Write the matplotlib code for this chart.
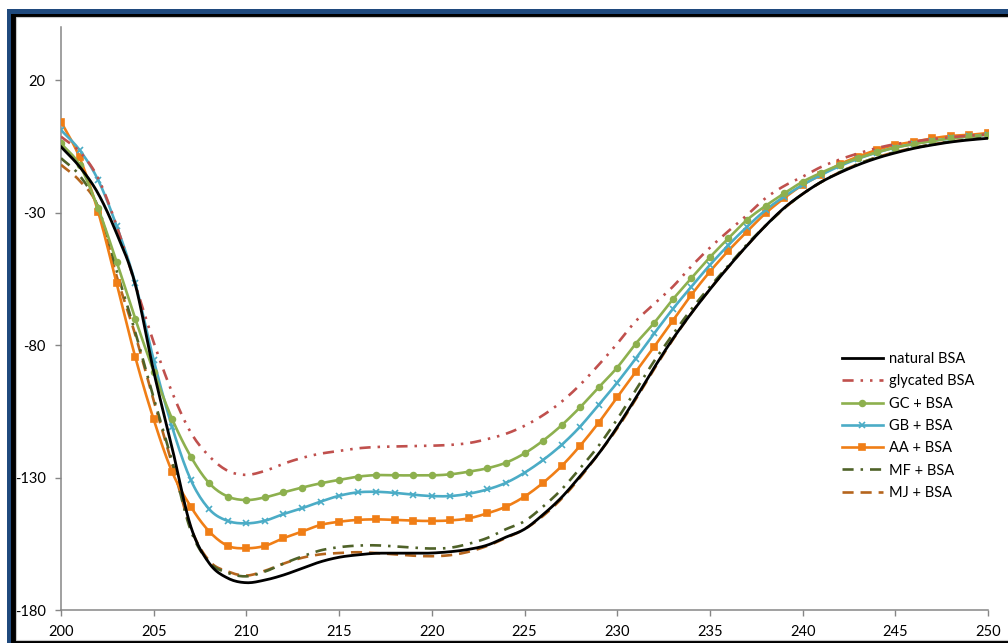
import numpy as np
import matplotlib
matplotlib.use("Agg")
import matplotlib.pyplot as plt
from matplotlib.patches import Rectangle

plt.rcParams['font.family'] = ['Lato', 'DejaVu Sans']
plt.rcParams['lines.scale_dashes'] = False

wavelength = np.arange(200, 251)

natural_bsa = [-5.2, -12.7, -22.8, -37.9, -57.0, -90.0, -119.0, -148.5, -162.4, -168.0,
               -169.7, -168.7, -166.8, -164.3, -161.8, -160.1, -159.2, -158.6, -158.6, -158.6,
               -158.5, -158.0, -157.1, -155.5, -152.5, -149.5, -144.0, -137.5, -129.5, -121.0,
               -111.0, -100.0, -88.5, -77.7, -68.0, -59.0, -50.5, -42.5, -35.0, -28.3,
               -23.0, -18.5, -15.0, -12.0, -9.5, -7.5, -5.8, -4.5, -3.4, -2.6, -2.0]

glycated_bsa = [-1.4, -7.0, -17.0, -35.0, -57.0, -79.0, -98.0, -113.0, -122.0, -127.5,
                -129.0, -127.5, -124.8, -122.6, -121.0, -120.0, -119.0, -118.5, -118.3, -118.2,
                -118.0, -117.7, -117.0, -115.5, -113.5, -110.5, -106.5, -101.4, -95.0, -87.5,
                -79.5, -71.0, -64.5, -58.0, -50.3, -43.3, -37.0, -31.0, -24.6, -20.0,
                -16.5, -12.8, -10.0, -7.7, -5.7, -4.2, -3.2, -2.3, -1.6, -1.0, -0.5]

gc_bsa = [-3.9, -12.1, -28.4, -48.6, -70.0, -90.0, -108.0, -122.1, -132.2, -137.2,
          -138.5, -137.5, -135.6, -133.8, -132.2, -130.9, -129.7, -129.1, -129.2, -129.2,
          -129.2, -128.8, -127.8, -126.5, -124.4, -120.9, -116.1, -110.3, -103.5, -96.0,
          -88.5, -79.5, -71.6, -62.8, -54.8, -46.9, -39.7, -32.8, -27.5, -22.8,
          -18.4, -15.0, -12.0, -9.5, -7.3, -5.5, -4.2, -3.0, -2.0, -1.3, -0.6]

gb_bsa = [1.1, -6.4, -17.7, -35.1, -56.5, -85.7, -111.1, -130.9, -142.0, -146.4,
          -147.3, -146.3, -143.8, -141.6, -139.1, -136.9, -135.6, -135.4, -135.8, -136.5,
          -137.0, -137.0, -136.1, -134.5, -132.0, -128.2, -123.4, -117.7, -110.8, -102.6,
          -94.2, -85.1, -75.6, -66.4, -58.0, -49.8, -42.3, -35.4, -29.1, -24.0,
          -19.6, -15.8, -12.5, -9.7, -7.4, -5.5, -4.1, -3.0, -2.0, -1.3, -0.6]

aa_bsa = [4.3, -9.2, -29.7, -56.7, -84.4, -108.1, -128.0, -141.0, -150.4, -155.8,
          -156.7, -155.8, -152.9, -150.4, -147.9, -146.7, -146.0, -145.8, -146.0, -146.3,
          -146.4, -146.2, -145.4, -143.5, -141.0, -137.2, -132.0, -125.7, -118.0, -109.3,
          -99.7, -90.1, -80.6, -70.8, -61.1, -52.3, -44.4, -37.2, -30.3, -24.6,
          -19.6, -15.8, -11.8, -8.9, -6.4, -4.5, -3.3, -2.0, -1.1, -0.7, 0.0]

mf_bsa = [-9.5, -16.0, -28.0, -52.0, -75.0, -100.0, -124.0, -150.0, -162.0, -166.0,
          -167.3, -165.5, -162.5, -159.8, -157.5, -156.3, -155.7, -155.6, -156.0, -156.5,
          -156.8, -156.5, -155.0, -152.8, -149.5, -146.5, -141.0, -134.5, -126.5, -118.0,
          -108.0, -97.0, -86.0, -76.0, -66.5, -58.0, -50.0, -42.0, -35.0, -28.5,
          -23.0, -18.5, -14.8, -11.7, -9.2, -7.2, -5.6, -4.3, -3.2, -2.4, -1.6]

mj_bsa = [-12.0, -18.0, -28.0, -54.0, -76.0, -101.0, -125.0, -149.0, -161.5, -165.5,
          -167.0, -165.2, -162.5, -160.3, -159.0, -158.5, -158.2, -158.5, -159.0, -159.5,
          -159.7, -159.3, -158.0, -155.8, -152.8, -149.5, -144.5, -138.0, -130.0, -121.0,
          -111.5, -100.5, -89.0, -78.0, -68.0, -59.0, -50.5, -42.5, -35.0, -28.5,
          -23.0, -18.5, -14.8, -11.7, -9.2, -7.2, -5.6, -4.3, -3.2, -2.4, -1.6]

labels = ["natural BSA", "glycated BSA", "GC + BSA", "GB + BSA", "AA + BSA", "MF + BSA", "MJ + BSA"]
x_ticks = [200, 205, 210, 215, 220, 225, 230, 235, 240, 245, 250]
y_ticks = [-180, -130, -80, -30, 20]

W, H = 1008, 643
SUB = 10


def smooth(x, y, n=SUB):
    """Catmull-Rom spline through the points (Excel-like smoothed line)."""
    x = np.asarray(x, float)
    y = np.asarray(y, float)
    xp = np.concatenate([[2 * x[0] - x[1]], x, [2 * x[-1] - x[-2]]])
    yp = np.concatenate([[2 * y[0] - y[1]], y, [2 * y[-1] - y[-2]]])
    xs, ys = [], []
    t = np.linspace(0, 1, n, endpoint=False)
    for i in range(1, len(xp) - 2):
        p0, p1, p2, p3 = yp[i - 1], yp[i], yp[i + 1], yp[i + 2]
        q0, q1, q2, q3 = xp[i - 1], xp[i], xp[i + 1], xp[i + 2]
        t2, t3 = t * t, t * t * t
        ys.append(0.5 * (2 * p1 + (-p0 + p2) * t + (2 * p0 - 5 * p1 + 4 * p2 - p3) * t2
                         + (-p0 + 3 * p1 - 3 * p2 + p3) * t3))
        xs.append(0.5 * (2 * q1 + (-q0 + q2) * t + (2 * q0 - 5 * q1 + 4 * q2 - q3) * t2
                         + (-q0 + 3 * q1 - 3 * q2 + q3) * t3))
    xs.append([x[-1]])
    ys.append([y[-1]])
    return np.concatenate(xs), np.concatenate(ys)


fig = plt.figure(figsize=(W / 100, H / 100), dpi=100)
fig.patch.set_facecolor('white')


def prect(x0, y0, x1, y1, **kw):
    r = Rectangle((x0 / W, 1 - y1 / H), (x1 - x0) / W, (y1 - y0) / H,
                  transform=fig.transFigure, **kw)
    fig.add_artist(r)
    return r


prect(7, 9, W + 5, H + 5, facecolor='#1F497D', edgecolor='none', zorder=0)
prect(11, 14, W + 5, H + 5, facecolor='#000000', edgecolor='none', zorder=0)
prect(16, 17, W + 5, 640, facecolor='white', edgecolor='#C8C8C8', linewidth=0.8, zorder=0)

ax = fig.add_axes([61 / W, 1 - 610 / H, (988 - 61) / W, (610 - 27) / H])
ax.set_facecolor('none')

styles = [
    dict(color='#000000', lw=2.0, ls='-', marker=None),
    dict(color='#C0504D', lw=1.9, ls=(0, (8, 5, 1.8, 5, 1.8, 5)), marker=None),
    dict(color='#8DB04E', lw=1.9, ls='-', marker='o', ms=4.2),
    dict(color='#4BACC6', lw=1.9, ls='-', marker='x', ms=4.5),
    dict(color='#F07E16', lw=1.9, ls='-', marker='s', ms=4.2),
    dict(color='#4F6228', lw=1.9, ls=(0, (8, 5, 1.8, 5)), marker=None),
    dict(color='#B5651D', lw=1.9, ls=(0, (8, 5)), marker=None),
]
series = [natural_bsa, glycated_bsa, gc_bsa, gb_bsa, aa_bsa, mf_bsa, mj_bsa]
handles = []
for i, (vals, st, lab) in enumerate(zip(series, styles, labels)):
    xs, ys = smooth(wavelength, vals)
    kw = dict(color=st['color'], lw=st['lw'], ls=st['ls'], label=lab, zorder=3 + (6 - i) * 0.1)
    if st['marker']:
        kw.update(marker=st['marker'], ms=st['ms'], markevery=slice(0, None, SUB),
                  mfc=st['color'], mec=st['color'], mew=1.2)
    h, = ax.plot(xs, ys, **kw)
    handles.append(h)

ax.set_xlim(200, 250)
ax.set_ylim(-180, 40)
ax.set_xticks(x_ticks)
ax.set_yticks(y_ticks)
ax.set_xticklabels([str(v) for v in x_ticks])
ax.set_yticklabels([str(v) for v in y_ticks])
for s in ['top', 'right']:
    ax.spines[s].set_visible(False)
for s in ['left', 'bottom']:
    ax.spines[s].set_color('#868686')
    ax.spines[s].set_linewidth(1.1)
ax.tick_params(axis='both', direction='out', length=4, width=1.0, color='#868686',
               labelsize=10.5, labelcolor='#000000')
ax.tick_params(axis='x', pad=6.5)
ax.tick_params(axis='y', pad=7)

leg = ax.legend(handles=handles, loc='upper left',
                bbox_to_anchor=(842 / W, 1 - 352 / H), bbox_transform=fig.transFigure,
                frameon=False, fontsize=10.5, handlelength=2.8, handletextpad=0.45,
                labelspacing=0.57, borderaxespad=0, borderpad=0)

fig.savefig('out.png', dpi=100)
